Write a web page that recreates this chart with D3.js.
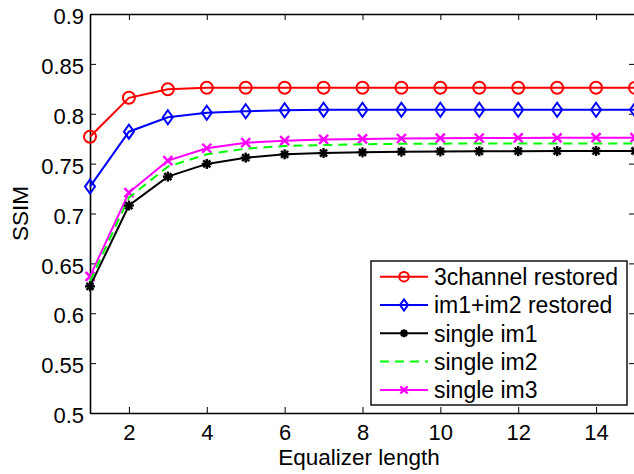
<!DOCTYPE html>
<html>
<head>
<meta charset="utf-8">
<script src="https://cdn.jsdelivr.net/npm/d3@7/dist/d3.min.js"></script>
<style>
  html, body { margin: 0; padding: 0; background: #fff; }
  svg { display: block; }
  svg text { font-family: "Liberation Sans", Arial, Helvetica; fill: #000; }
</style>
</head>
<body>
<svg id="chart" width="634" height="474"></svg>
<script>
// Equalizer length on the x axis
const lengths = [1, 2, 3, 4, 5, 6, 7, 8, 9, 10, 11, 12, 13, 14, 15];

// SSIM per series
const ssim3channel = [0.777, 0.816, 0.8245, 0.826, 0.826, 0.826, 0.826, 0.826, 0.826, 0.826, 0.826, 0.826, 0.826, 0.826, 0.826];
const ssimIm1Im2   = [0.727, 0.782, 0.7965, 0.801, 0.8025, 0.8035, 0.804, 0.804, 0.804, 0.804, 0.804, 0.804, 0.804, 0.804, 0.804];
const ssimSingle1  = [0.627, 0.708, 0.737, 0.7497, 0.756, 0.7593, 0.7606, 0.7613, 0.762, 0.7622, 0.7624, 0.7625, 0.7626, 0.7627, 0.7627];
const ssimSingle2  = [0.632, 0.716, 0.747, 0.7593, 0.765, 0.7677, 0.7686, 0.7694, 0.7698, 0.77, 0.7702, 0.7703, 0.7703, 0.7703, 0.7703];
const ssimSingle3  = [0.637, 0.721, 0.753, 0.7654, 0.771, 0.773, 0.7743, 0.7748, 0.7752, 0.7755, 0.7757, 0.7758, 0.7759, 0.776, 0.776];

const seriesNames = ["3channel restored", "im1+im2 restored", "single im1", "single im2", "single im3"];
const xTicks = [2, 4, 6, 8, 10, 12, 14];
const yTicks = [0.5, 0.55, 0.6, 0.65, 0.7, 0.75, 0.8, 0.85, 0.9];

const series = [
  { name: seriesNames[0], values: ssim3channel, color: "#ff0000", marker: "circle", dash: null },
  { name: seriesNames[1], values: ssimIm1Im2,   color: "#0000ff", marker: "diamond", dash: null },
  { name: seriesNames[2], values: ssimSingle1,  color: "#000000", marker: "star", dash: null },
  { name: seriesNames[3], values: ssimSingle2,  color: "#00ff00", marker: null, dash: "9,6" },
  { name: seriesNames[4], values: ssimSingle3,  color: "#ff00ff", marker: "cross", dash: null }
];

const svg = d3.select("#chart");
const pLeft = 90, pRight = 635, pTop = 14, pBottom = 413;

const x = d3.scaleLinear().domain([1, 15]).range([pLeft, pRight]);
const y = d3.scaleLinear().domain([0.5, 0.9]).range([pBottom, pTop]);

const tickFont = 22, labelFont = 22.5, legendFont = 23;
const fontFamily = "'Liberation Sans', Arial, Helvetica";

// axes frame (box style, ticks pointing inward)
const fmt = d => String(+d.toFixed(2));

const gxBottom = svg.append("g").attr("transform", `translate(0,${pBottom})`)
  .call(d3.axisBottom(x).tickValues(xTicks).tickSizeInner(-6).tickSizeOuter(0).tickPadding(11));
const gxTop = svg.append("g").attr("transform", `translate(0,${pTop})`)
  .call(d3.axisTop(x).tickValues(xTicks).tickSizeInner(-6).tickSizeOuter(0).tickFormat(""));
const gyLeft = svg.append("g").attr("transform", `translate(${pLeft},0)`)
  .call(d3.axisLeft(y).tickValues(yTicks).tickSizeInner(-6).tickSizeOuter(0).tickPadding(6).tickFormat(fmt));
const gyRight = svg.append("g").attr("transform", `translate(${pRight},0)`)
  .call(d3.axisRight(y).tickValues(yTicks).tickSizeInner(-6).tickSizeOuter(0).tickFormat(""));

[gxBottom, gxTop, gyLeft, gyRight].forEach(g => {
  g.attr("font-family", fontFamily);
  g.select(".domain").attr("stroke", "#000").attr("stroke-width", 1.6);
  g.selectAll(".tick line").attr("stroke", "#000").attr("stroke-width", 1);
  g.selectAll(".tick text").attr("fill", "#000").attr("font-size", tickFont)
    .attr("font-family", fontFamily);
});
gxBottom.selectAll(".tick text").attr("dy", "0.71em");
gyLeft.selectAll(".tick text").attr("dy", "0.44em");

// axis titles
svg.append("text")
  .attr("x", 359).attr("y", 465)
  .attr("text-anchor", "middle").attr("font-size", labelFont)
  .text("Equalizer length");
svg.append("text")
  .attr("transform", `translate(27.5,${(pTop + pBottom) / 2}) rotate(-90)`)
  .attr("text-anchor", "middle").attr("font-size", labelFont)
  .text("SSIM");

// marker drawing
function drawMarker(g, type, cx, cy, color, s) {
  const k = s || 1;
  if (type === "circle") {
    g.append("circle").attr("cx", cx).attr("cy", cy).attr("r", 6 * k)
      .attr("fill", "none").attr("stroke", color).attr("stroke-width", 2);
  } else if (type === "diamond") {
    const w = 5 * k, h = 7 * k;
    g.append("path").attr("d", `M${cx},${cy - h}L${cx + w},${cy}L${cx},${cy + h}L${cx - w},${cy}Z`)
      .attr("fill", "none").attr("stroke", color).attr("stroke-width", 2);
  } else if (type === "star") {
    const r = 5 * k;
    for (let a = 0; a < 180; a += 45) {
      const t = a * Math.PI / 180;
      g.append("line")
        .attr("x1", cx - r * Math.cos(t)).attr("y1", cy - r * Math.sin(t))
        .attr("x2", cx + r * Math.cos(t)).attr("y2", cy + r * Math.sin(t))
        .attr("stroke", color).attr("stroke-width", 2.4);
    }
  } else if (type === "cross") {
    const r = 4.5 * k;
    [[-1, -1, 1, 1], [-1, 1, 1, -1]].forEach(([a, b, c, d]) => {
      g.append("line")
        .attr("x1", cx + a * r).attr("y1", cy + b * r)
        .attr("x2", cx + c * r).attr("y2", cy + d * r)
        .attr("stroke", color).attr("stroke-width", 2.4);
    });
  }
}

// lines and markers
const line = d3.line().x((d, i) => x(lengths[i])).y(d => y(d));
const plot = svg.append("g");
// draw in reverse so the first series lies on top
series.slice().reverse().forEach(s => {
  plot.append("path").datum(s.values)
    .attr("d", line).attr("fill", "none")
    .attr("stroke", s.color).attr("stroke-width", 2)
    .attr("stroke-dasharray", s.dash);
  if (s.marker) {
    const mg = plot.append("g");
    s.values.forEach((v, i) => drawMarker(mg, s.marker, x(lengths[i]), y(v), s.color));
  }
});

// legend
const lg = svg.append("g");
const lx = 371, ly = 261, lw = 256, lh = 144;
lg.append("rect").attr("x", lx).attr("y", ly).attr("width", lw).attr("height", lh)
  .attr("fill", "#fff").attr("stroke", "#000").attr("stroke-width", 1.4);
series.forEach((s, i) => {
  const ry = 276.7 + i * 28.3;
  lg.append("line").attr("x1", 380).attr("x2", 428).attr("y1", ry).attr("y2", ry)
    .attr("stroke", s.color).attr("stroke-width", 2)
    .attr("stroke-dasharray", s.dash);
  if (s.marker) drawMarker(lg, s.marker, 404, ry, s.color, 0.8);
  lg.append("text").attr("x", 434).attr("y", ry).attr("dy", "0.36em")
    .attr("font-size", legendFont).text(s.name);
});
</script>
</body>
</html>
